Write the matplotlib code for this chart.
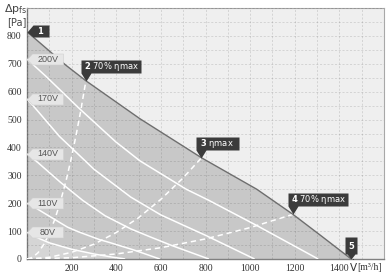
import numpy as np
import matplotlib
matplotlib.use("Agg")
import matplotlib.pyplot as plt
from matplotlib.path import Path
from matplotlib.ticker import MultipleLocator

DPI = 100
plt.rcParams['mathtext.fontset'] = 'dejavusans'

# ---------------- data ----------------
max_q = [0, 174, 264, 506, 782, 1030, 1192, 1320, 1453]
max_p = [815, 695, 639, 503, 363, 250, 160, 82, 0]

v200_q = [0, 85, 234, 398, 506, 714, 811, 1030, 1305]
v200_p = [717, 655, 540, 420, 352, 250, 212, 120, 0]
v170_q = [0, 40, 145, 300, 465, 600, 800, 1020]
v170_p = [574, 538, 440, 322, 222, 158, 85, 0]
v140_q = [0, 50, 150, 250, 350, 465, 550, 650, 815]
v140_p = [377, 345, 275, 210, 155, 108, 80, 48, 0]
v110_q = [0, 39, 107, 182, 232, 327, 371, 480, 595]
v110_p = [200, 183, 150, 114, 97, 69, 59, 32, 0]
v80_q = [0, 30, 100, 200, 300, 380, 440]
v80_p = [96, 82, 58, 35, 18, 7, 0]

speed_labels = ["200V", "170V", "140V", "110V", "80V"]

eta_q = [0, 100, 200, 300, 400, 500, 600, 700, 782]
eta_p = [0, 6, 24, 53, 95, 148, 214, 291, 363]
left70_q = [0, 25, 50, 75, 100, 125, 150, 177, 200, 219, 240, 264]
left70_p = [0, 6, 23, 52, 92, 143, 206, 287, 367, 440, 528, 639]
right70_q = [0, 200, 400, 600, 800, 1000, 1192]
right70_p = [0, 4.5, 18, 40.5, 72, 112.6, 160]

op_q = [0, 264, 782, 1192, 1453]
op_p = [815, 639, 363, 160, 0]
op_num = ["1", "2", "3", "4", "5"]
op_txt = ["", "70% ηmax", "ηmax", "70% ηmax", ""]

x_ticks = [200, 400, 600, 800, 1000, 1200, 1400]
y_ticks = [0, 100, 200, 300, 400, 500, 600, 700, 800]

# ---------------- figure ----------------
fig = plt.figure(figsize=(3.9, 2.75), dpi=DPI)
ax = fig.add_axes([27 / 390, 16 / 275, 357 / 390, 251 / 275])
ax.set_xlim(0, 1600)
ax.set_ylim(0, 900)
ax.set_facecolor('#efefef')

ax.fill_between(max_q, max_p, 0, color='#c8c8c8', lw=0, zorder=1)
ax.fill_between(v80_q, v80_p, 0, color='#d5d5d5', lw=0, zorder=1.2)

for q, p in [(v200_q, v200_p), (v170_q, v170_p), (v140_q, v140_p),
             (v110_q, v110_p), (v80_q, v80_p)]:
    ax.plot(q, p, color='white', lw=1.1, zorder=3, solid_capstyle='butt',
            solid_joinstyle='round')

for q, p in [(eta_q, eta_p), (left70_q, left70_p), (right70_q, right70_p)]:
    ax.plot(q, p, color='white', lw=1.1, dashes=(3.5, 2.5), zorder=3)

ax.plot(max_q, max_p, color='#6e6e6e', lw=1.0, zorder=3.5)

# grid
ax.set_xticks(x_ticks)
ax.set_yticks(y_ticks)
ax.xaxis.set_minor_locator(MultipleLocator(100))
ax.yaxis.set_minor_locator(MultipleLocator(50))
ax.set_axisbelow(False)
ax.grid(which='both', color='black', alpha=0.13, lw=0.6, dashes=(2.5, 2))
ax.tick_params(which='both', length=0)
ax.tick_params(axis='x', pad=3.5, labelsize=7, labelcolor='#333333')
ax.tick_params(axis='y', pad=3.8, labelsize=7, labelcolor='#333333')
for lab in ax.get_xticklabels() + ax.get_yticklabels():
    lab.set_fontfamily('Liberation Serif')

for s in ['top', 'right']:
    ax.spines[s].set_color('#a8a8a8')
    ax.spines[s].set_linewidth(0.8)
for s in ['left', 'bottom']:
    ax.spines[s].set_color('#808080')
    ax.spines[s].set_linewidth(1.0)


def px_marker(verts):
    v = np.array(verts, float)
    r = np.abs(v).max()
    path = Path(np.vstack([v, v[:1]]), closed=True)
    return path, 2 * r * 72 / DPI


# speed labels
lab_path, lab_ms = px_marker([(0, 0), (5, 5.5), (36, 5.5), (36, -5.5), (5, -5.5)])
starts = [v200_p[0], v170_p[0], v140_p[0], v110_p[0], v80_p[0]]
for lab, p0 in zip(speed_labels, starts):
    ax.plot([0], [p0], marker=lab_path, ms=lab_ms, mfc='#e6e6e6',
            mec='#cfcfcf', mew=0.4, ls='none', zorder=6, clip_on=False)
    ax.annotate(lab, xy=(0, p0), xytext=(21, 0), textcoords='offset pixels',
                ha='center', va='center', fontsize=6.5, color='#555555',
                family='Liberation Sans', zorder=7, annotation_clip=False)

# operating point markers
dark = '#3b3b3b'
for i, (q, p, n, t) in enumerate(zip(op_q, op_p, op_num, op_txt)):
    if i == 0:
        verts = [(0, 0), (6, 7), (22, 7), (22, -5), (6, -5)]
        tx, ty, ha = 14, 1, 'center'
        s = r"$\mathbf{%s}$" % n
    elif i == 4:
        verts = [(0, 0), (4, 5), (6, 5), (6, 22), (-6, 22), (-6, 5), (-4, 5)]
        tx, ty, ha = 0, 13.5, 'center'
        s = r"$\mathbf{%s}$" % n
    else:
        w = 43 if i == 2 else 60
        verts = [(0, 0), (5, 8), (w - 5, 8), (w - 5, 21), (-5, 21), (-5, 8)]
        tx, ty, ha = -1.5, 14.5, 'left'
        s = r"$\mathbf{%s}$ %s" % (n, t)
    path, ms = px_marker(verts)
    ax.plot([q], [p], marker=path, ms=ms, mfc=dark, mew=0, ls='none',
            zorder=8, clip_on=False)
    ax.annotate(s, xy=(q, p), xytext=(tx, ty), textcoords='offset pixels',
                ha=ha, va='center', fontsize=6, color='white', zorder=9,
                annotation_clip=False)

# axis titles
fig.text(4 / 390, 1 - 9 / 275, r"$\Delta\mathrm{p}_{\mathrm{fs}}$", fontsize=8,
         color='#444444', ha='left', va='center')
fig.text(7 / 390, 1 - 22 / 275, "[Pa]", fontsize=7, color='#444444',
         ha='left', va='center')
fig.text(349 / 390, 1 - 266 / 275, r"$\dot{\mathrm{V}}$", fontsize=7.5,
         color='#333333', ha='left', va='center')
fig.text(357 / 390, 1 - 267 / 275, "[m³/h]", fontsize=7, color='#333333',
         ha='left', va='center', family='Liberation Serif')

fig.savefig("out.png", dpi=DPI)
